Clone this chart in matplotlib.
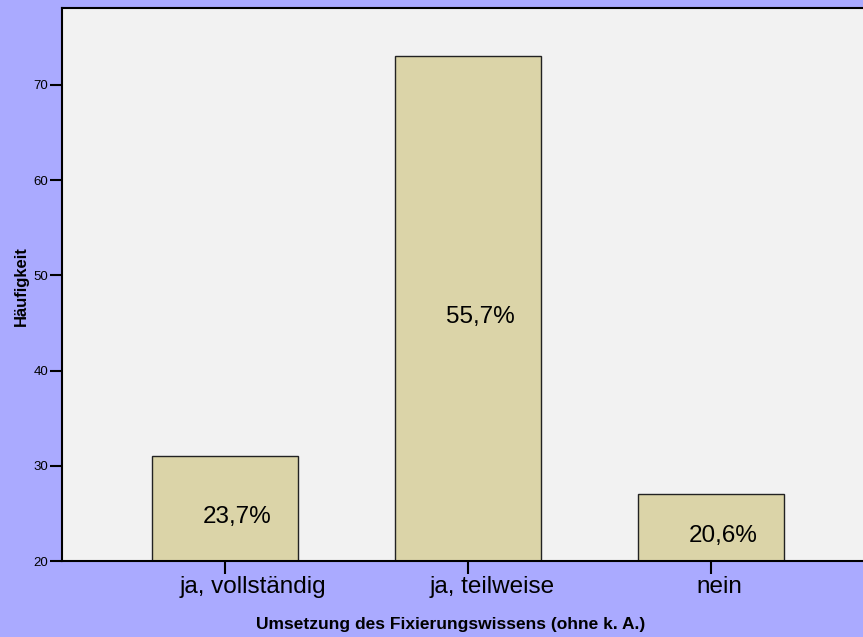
import matplotlib
matplotlib.use("Agg")
import matplotlib.pyplot as plt

categories = ["ja, vollständig", "ja, teilweise", "nein"]
counts = [31, 73, 27]
percent_labels = ["23,7%", "55,7%", "20,6%"]
y_ticks = [20, 30, 40, 50, 60, 70]

plt.rcParams['font.family'] = ['Liberation Sans', 'DejaVu Sans']

fig = plt.figure(figsize=(8.63, 6.37), dpi=100, facecolor='#AAAAFF')
ax = fig.add_axes([62 / 863, 76 / 637, 1 - 62 / 863, 553 / 637])
ax.set_facecolor('#F2F2F2')

base = 20
x = list(range(len(categories)))
heights = [c - base for c in counts]
ax.bar(x, heights, bottom=base, width=0.6, color='#DBD4A8',
       edgecolor='#222222', linewidth=1.0, zorder=2)

for xi, c, lab in zip(x, counts, percent_labels):
    ax.text(xi + 0.05, (base + c) / 2 - 0.9, lab, ha='center', va='center',
            fontsize=17.5, color='black', zorder=3)

ax.set_xlim(-0.671, 2.626)
ax.set_ylim(20, 78.06)
ax.set_yticks(y_ticks)
ax.set_yticklabels([str(t) for t in y_ticks], fontsize=9.5)
ax.set_xticks(x)
ax.set_xticklabels([])

ax.tick_params(axis='y', direction='out', length=9, width=1.5, pad=1, colors='black')
ax.tick_params(axis='x', direction='out', length=9, width=1.5, pad=1, colors='black')

for side in ['left', 'top', 'bottom']:
    ax.spines[side].set_linewidth(1.5)
    ax.spines[side].set_color('black')
ax.spines['right'].set_visible(False)

# category labels sit a bit right of their ticks, like in the SPSS output
fig.canvas.draw()
renderer = fig.canvas.get_renderer()
for xi, cat in zip(x, categories):
    t = ax.annotate(cat, xy=(xi, 0), xycoords=ax.get_xaxis_transform(),
                    xytext=(0, -15), textcoords='offset pixels',
                    ha='center', va='top', fontsize=17.5)
    w = t.get_window_extent(renderer).width
    t.set_position((0.19 * w, -15))

fig.text(21 / 863, 1 - 286 / 637, "Häufigkeit", rotation=90,
         ha='center', va='center', fontsize=12, fontweight='bold')
fig.text(451 / 863, 1 - 625 / 637, "Umsetzung des Fixierungswissens (ohne k. A.)",
         ha='center', va='center', fontsize=12.5, fontweight='bold')

fig.savefig("out.png", dpi=100, facecolor=fig.get_facecolor())
